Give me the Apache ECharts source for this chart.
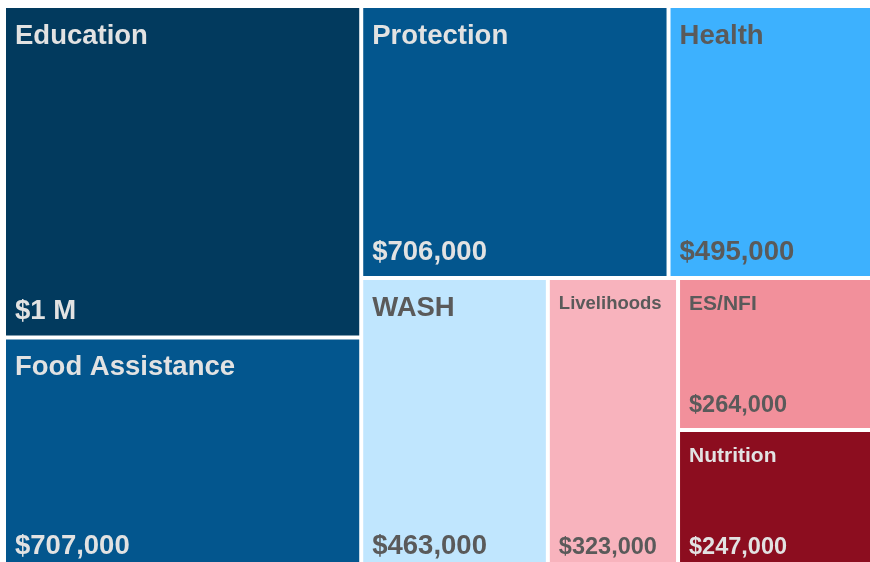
<!DOCTYPE html>
<html>
<head>
<meta charset="utf-8">
<script src="https://cdn.jsdelivr.net/npm/echarts@6/dist/echarts.min.js"></script>
<style>
  html, body { margin: 0; padding: 0; background: #fff; }
  #chart { width: 870px; height: 562px; }
</style>
</head>
<body>
<div id="chart"></div>
<script>
// sectors and funding (USD)
const sectors = ["Education", "Food Assistance", "Protection", "Health", "WASH", "Livelihoods", "ES/NFI", "Nutrition"];
const funding = [1000000, 707000, 706000, 495000, 463000, 323000, 264000, 247000];

// styling per sector (same order)
const fillColors = ["#023a5e", "#03568e", "#03568e", "#3db1fe", "#c0e6fe", "#f8b3bd", "#f2909b", "#8c0d1f"];
const textColors = ["#e2e2e2", "#e2e2e2", "#e2e2e2", "#5a5a5a", "#5a5a5a", "#5a5a5a", "#5a5a5a", "#e2e2e2"];
const nameSizes = [27.5, 27.5, 27.5, 27.5, 27.5, 18.5, 21, 21];
const valueSizes = [27.5, 27.5, 27.5, 27.5, 27.5, 23.5, 23.5, 23.5];

function money(v) {
  if (v >= 1000000) return "$" + Math.round(v / 1000000) + " M";
  return "$" + v.toLocaleString("en-US");
}

const font = "'Liberation Sans', Arial, sans-serif";

let myChart = echarts.init(document.getElementById("chart"));

// shared layout so both series split the area the same way
const base = {
  type: "treemap",
  left: 6,
  top: 8,
  width: 876,
  height: 562,
  squareRatio: 0.8,
  roam: false,
  nodeClick: false,
  breadcrumb: { show: false },
  animation: false,
};

myChart.setOption({
  series: [
    Object.assign({}, base, {
      itemStyle: { gapWidth: 4, borderWidth: 0 },
      label: {
        show: true,
        position: "insideTopLeft",
        fontFamily: font,
        fontWeight: "bold",
        padding: [14, 9, 0, 9],
        formatter: "{b}",
      },
      data: sectors.map((s, i) => ({
        name: s,
        value: funding[i],
        itemStyle: { color: fillColors[i] },
        label: { color: textColors[i], fontSize: nameSizes[i] },
      })),
    }),
    Object.assign({}, base, {
      silent: true,
      itemStyle: { gapWidth: 4, borderWidth: 0, color: "rgba(0,0,0,0)" },
      label: {
        show: true,
        position: "insideBottomLeft",
        fontFamily: font,
        fontWeight: "bold",
        padding: [0, 9, 10, 9],
        formatter: (p) => money(p.value),
      },
      data: sectors.map((s, i) => ({
        name: s,
        value: funding[i],
        itemStyle: { color: "rgba(0,0,0,0)" },
        label: { color: textColors[i], fontSize: valueSizes[i] },
      })),
    }),
  ],
});
</script>
</body>
</html>
